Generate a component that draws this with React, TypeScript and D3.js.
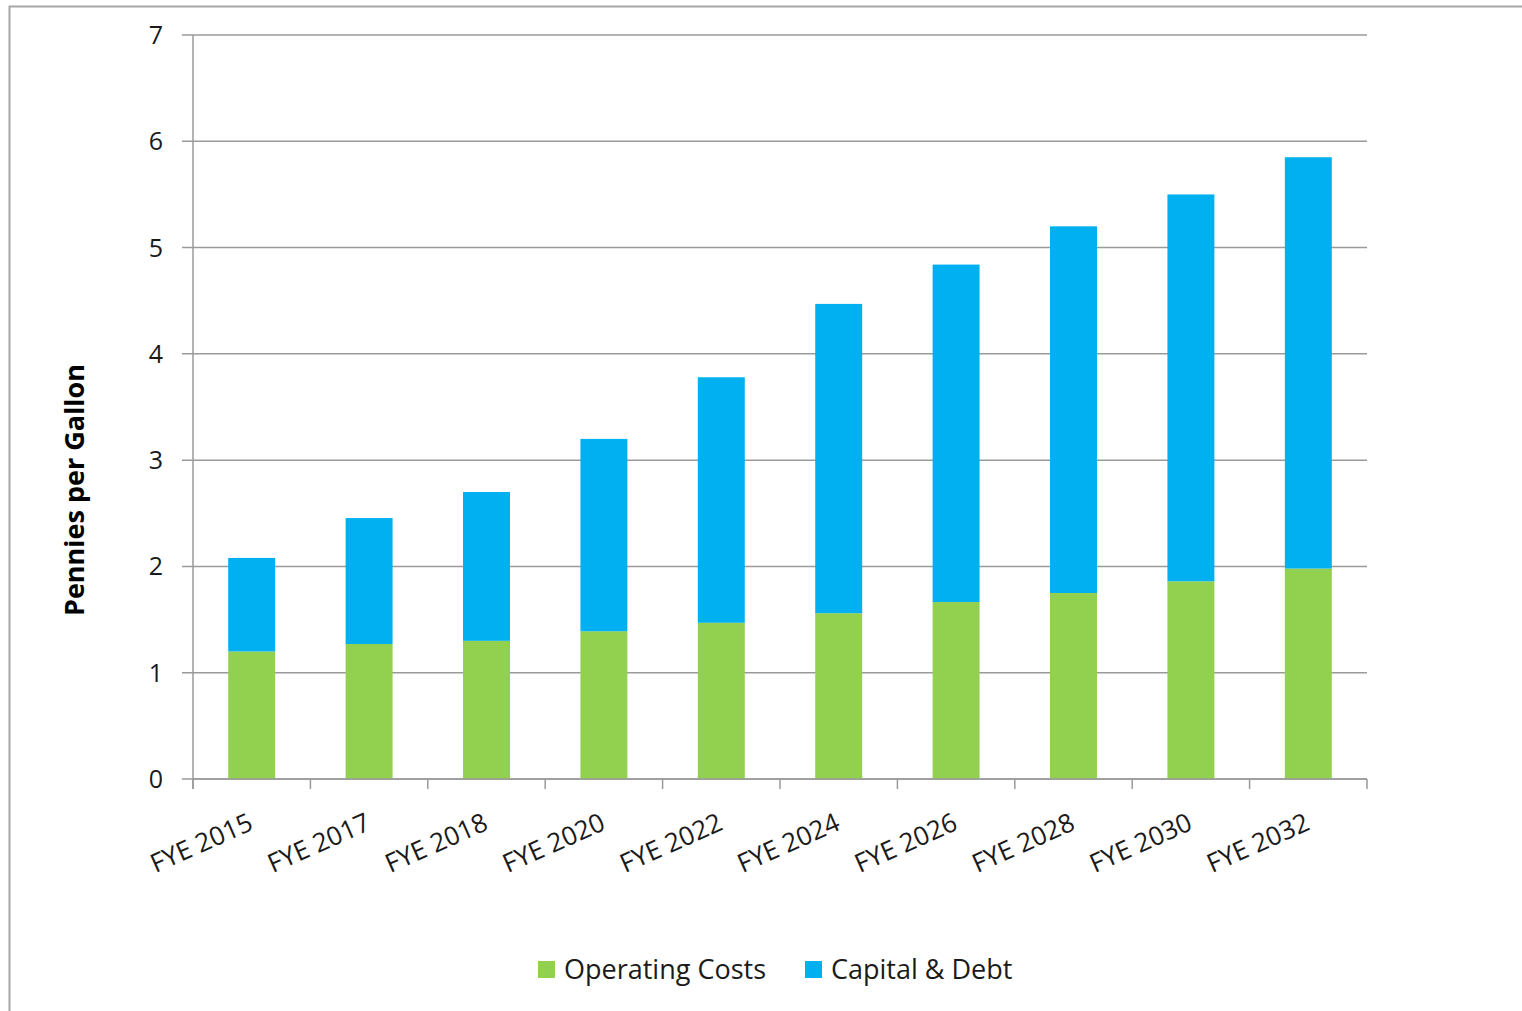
import React from "react";
import * as d3 from "d3";

const years = ["FYE 2015", "FYE 2017", "FYE 2018", "FYE 2020", "FYE 2022", "FYE 2024", "FYE 2026", "FYE 2028", "FYE 2030", "FYE 2032"];
const operating = [1.2, 1.27, 1.3, 1.39, 1.47, 1.56, 1.665, 1.75, 1.86, 1.98];
const capital = [0.88, 1.185, 1.4, 1.81, 2.31, 2.91, 3.175, 3.45, 3.64, 3.87];
const yTicks = [0, 1, 2, 3, 4, 5, 6, 7];

const seriesNames = ["Operating Costs", "Capital & Debt"];
const colours = ["#92d050", "#00b0f0"];

const font = "'Open Sans', sans-serif";

export default function App() {
    const width = 1522;
    const height = 1011;
    const left = 193, right = 1367, top = 35, bottom = 779;

    const x = d3.scaleBand().domain(years).range([left, right]).paddingInner(0.6).paddingOuter(0.3);
    const y = d3.scaleLinear().domain([0, 7]).range([bottom, top]);
    const bandEdges = d3.range(years.length + 1).map(i => left + i * (right - left) / years.length);

    const rows = years.map((yr, i) => ({ yr, op: operating[i], cap: capital[i] }));
    const stack = d3.stack<any>().keys(["op", "cap"])(rows);

    return <svg width={width} height={height} style={{ position: "absolute", left: 0, top: 0, display: "block" }}>
        <rect x={0} y={0} width={width} height={height} fill="#fff" />
        <path d={`M9.5,${height} V6.5 H${width}`} fill="none" stroke="#a6a6a6" strokeWidth={2} />
        {yTicks.map(t => <g key={t}>
            <line x1={left - 11} x2={right} y1={y(t)} y2={y(t)} stroke="#9a9a9a" strokeWidth={1.5} />
            <text x={163} y={y(t)} dy="0.36em" textAnchor="end" fontFamily={font} fontSize={25} fill="#1a1a1a">{t}</text>
        </g>)}
        {stack.map((s, si) => <g key={si} fill={colours[si]}>
            {s.map((d, i) => <rect key={i} x={x(years[i])} width={x.bandwidth()} y={y(d[1])} height={y(d[0]) - y(d[1])} />)}
        </g>)}
        <line x1={left} x2={left} y1={top} y2={bottom + 10} stroke="#9a9a9a" strokeWidth={1.5} />
        {bandEdges.map((e, i) => <line key={i} x1={e} x2={e} y1={bottom} y2={bottom + 10} stroke="#9a9a9a" strokeWidth={1.5} />)}
        <line x1={left} x2={right} y1={bottom} y2={bottom} stroke="#9a9a9a" strokeWidth={1.5} />
        {years.map(yr => <text key={yr} transform={`translate(${x(yr)! + x.bandwidth() / 2 + 3},${bottom + 50}) rotate(-24)`} textAnchor="end" fontFamily={font} fontSize={26} fill="#1a1a1a">{yr}</text>)}
        <text transform={`translate(84,490) rotate(-90)`} textAnchor="middle" fontFamily={font} fontSize={27} fontWeight="bold" fill="#000">Pennies per Gallon</text>
        {seriesNames.map((n, i) => {
            const lx = [538, 805][i];
            return <g key={n}>
                <rect x={lx} y={961} width={17} height={17} fill={colours[i]} />
                <text x={lx + 26} y={969} dy="0.36em" fontFamily={font} fontSize={27} fill="#1a1a1a">{n}</text>
            </g>;
        })}
    </svg>;
}
